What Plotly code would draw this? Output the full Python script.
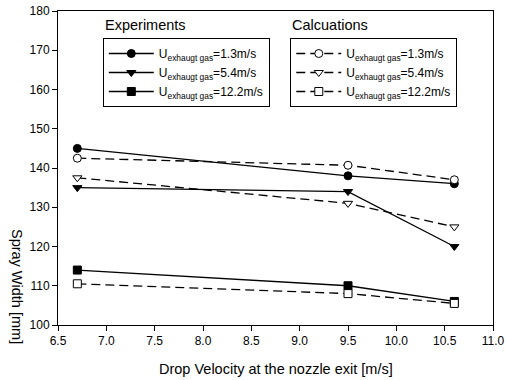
import plotly.graph_objects as go

x_vals = [6.7, 9.5, 10.6]
exp_13 = [145, 138, 136]
exp_54 = [135, 134, 120]
exp_122 = [114, 110, 106]
calc_13 = [142.5, 140.7, 137]
calc_54 = [137.5, 131, 125]
calc_122 = [110.5, 108, 105.5]
series_labels = ["U<sub>exhaugt gas</sub>=1.3m/s",
                 "U<sub>exhaugt gas</sub>=5.4m/s",
                 "U<sub>exhaugt gas</sub>=12.2m/s"]
x_ticks = [6.5, 7.0, 7.5, 8.0, 8.5, 9.0, 9.5, 10.0, 10.5, 11.0]
y_ticks = [100, 110, 120, 130, 140, 150, 160, 170, 180]

FONT = "Liberation Sans, Arial, sans-serif"
fig = go.Figure()

exp_data = [exp_13, exp_54, exp_122]
calc_data = [calc_13, calc_54, calc_122]
symbols = ["circle", "triangle-down", "square"]

for ys, sym, lab in zip(exp_data, symbols, series_labels):
    fig.add_trace(go.Scatter(
        x=x_vals, y=ys, mode="lines+markers", name=lab, legend="legend",
        line=dict(color="black", width=1.3),
        marker=dict(symbol=sym, size=8, color="black", line=dict(color="black", width=1)),
    ))
for ys, sym, lab in zip(calc_data, symbols, series_labels):
    fig.add_trace(go.Scatter(
        x=x_vals, y=ys, mode="lines+markers", name=lab, legend="legend2",
        line=dict(color="black", width=1.3, dash="9px,5px"),
        marker=dict(symbol=sym, size=8, color="white", line=dict(color="black", width=1)),
    ))

axis_common = dict(
    showline=True, linecolor="black", linewidth=1, mirror=True,
    ticks="outside", ticklen=5, tickcolor="black", tickwidth=1,
    showgrid=False, zeroline=False, automargin=False,
    tickfont=dict(family=FONT, size=12, color="black"),
)
fig.update_xaxes(range=[6.5, 11.0], tickvals=x_ticks,
                 ticktext=[f"{v:.1f}" for v in x_ticks], **axis_common)
fig.update_yaxes(range=[100, 180], tickvals=y_ticks, **axis_common)

legend_common = dict(
    bordercolor="black", borderwidth=1, bgcolor="white",
    font=dict(family=FONT, size=12, color="black"),
    xanchor="left", yanchor="top", tracegroupgap=0, itemwidth=45,
)
TITLE_FONT = dict(family=FONT, size=14.5, color="black")
fig.update_layout(
    width=506, height=380,
    margin=dict(l=58, r=13, t=11, b=55, autoexpand=False),
    paper_bgcolor="white", plot_bgcolor="white",
    showlegend=True,
    legend=dict(x=0.103, y=0.914, **legend_common),
    legend2=dict(x=0.534, y=0.914, **legend_common),
    annotations=[
        dict(text="Experiments", x=0.103, y=0.955, xref="paper", yref="paper",
             xanchor="left", yanchor="middle", showarrow=False, font=TITLE_FONT),
        dict(text="Calcuations", x=0.534, y=0.955, xref="paper", yref="paper",
             xanchor="left", yanchor="middle", showarrow=False, font=TITLE_FONT),
        dict(text="Spray Width [mm]", x=-0.094, y=0.124, xref="paper", yref="paper",
             xanchor="center", yanchor="middle", showarrow=False, textangle=90,
             font=TITLE_FONT),
        dict(text="Drop Velocity at the nozzle exit [m/s]", x=0.5, y=-0.140,
             xref="paper", yref="paper", xanchor="center", yanchor="middle",
             showarrow=False, font=TITLE_FONT),
    ],
)

fig.write_html("out.html", config={"displayModeBar": False},
               post_script="document.body.style.margin='0px';document.body.style.overflow='hidden';")
